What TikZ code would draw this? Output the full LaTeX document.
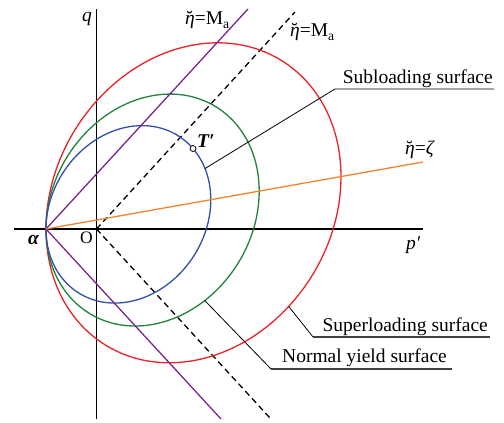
\documentclass[tikz,border=0pt]{standalone}
\usepackage{fontspec}
\setmainfont{Liberation Serif}
\definecolor{cred}{RGB}{235,35,40}
\definecolor{cgreen}{RGB}{35,130,60}
\definecolor{cblue}{RGB}{50,80,170}
\definecolor{cpurp}{RGB}{120,40,140}
\definecolor{corng}{RGB}{245,130,45}
\newcommand{\etab}{\makebox[0pt][l]{\hspace{0.06em}\raisebox{0.03em}{\upshape ˘}}{\itshape η}}
\begin{document}
\begin{tikzpicture}[x=1pt,y=1pt,
  font=\fontsize{19.5}{22}\selectfont,
  axis/.style={black,line width=1.4pt},
  curve/.style={line width=1.3pt},
  purpline/.style={cpurp,line width=1.3pt},
  orngline/.style={corng,line width=1.3pt},
  dashline/.style={black,line width=1.3pt,dash pattern=on 6pt off 4pt},
  leader/.style={black,line width=0.8pt},
  underl/.style={black!75,line width=1.2pt},
  lbl/.style={inner sep=0pt}]
\useasboundingbox (0,0) rectangle (504,423);
% key points
\coordinate (alpha) at (46,194);
\coordinate (O) at (96.5,194);
\coordinate (hL) at (14,194);
\coordinate (hR) at (423,194);
\coordinate (vB) at (96.5,4);
\coordinate (vT) at (96.5,414);
\coordinate (oE) at (423,261);
\coordinate (pU) at (248,414);
\coordinate (pD) at (221,4);
\coordinate (dU) at (295,411);
\coordinate (dD) at (270,5);
% axes
\draw[axis] (hL) -- (hR);
\draw[axis] (vB) -- (vT);
% lines
\draw[dashline] (O) -- (dU);
\draw[dashline] (O) -- (dD);
% ellipses
\draw[cred,curve,cm={147.5,26.2,0,157.8,(193.5,220.2)}] (0,0) circle[radius=1];
\draw[cgreen,curve,cm={106.6,18.95,0,114.4,(152.6,212.95)}] (0,0) circle[radius=1];
\draw[cblue,curve,cm={82.4,14.65,0,87.5,(128.4,208.65)}] (0,0) circle[radius=1];
\path[cm={82.4,14.65,0,87.5,(128.4,208.65)}] (38.4:1) coordinate (T) (21.6:1) coordinate (subP);
\path[cm={106.6,18.95,0,114.4,(152.6,212.95)}] (-60.7:1) coordinate (norP);
\path[cm={147.5,26.2,0,157.8,(193.5,220.2)}] (-49.8:1) coordinate (supP);
\draw[purpline] (alpha) -- (pU);
\draw[purpline] (alpha) -- (pD);
\draw[orngline] (alpha) -- (oE);
% leaders
\coordinate (k1) at (335,334); \coordinate (e1) at (494,334);
\coordinate (k2) at (313,86);  \coordinate (e2) at (490,86);
\coordinate (k3) at (271,54);  \coordinate (e3) at (452,54);
\draw[leader] (subP) -- (k1) -- (e1);
\draw[leader] (supP) -- (k2);
\draw[underl] (k2) -- (e2);
\draw[leader] (norP) -- (k3);
\draw[underl] (k3) -- (e3);
\node[lbl,anchor=base east] (t1) at (493,339) {Subloading surface};
\node[lbl,anchor=base east] (t2) at (488,91) {Superloading surface};
\node[lbl,anchor=base east] (t3) at (447,60) {Normal yield surface};
% point T'
\node[circle,draw,fill=white,line width=0.8pt,inner sep=0pt,minimum size=6pt] (Tc) at (T) {};
\node[lbl,anchor=base west] (Tl) at (197,275) {\bfseries\itshape T′};
% axis labels
\node[lbl,anchor=base east] (ql) at (92,401) {\itshape q};
\node[lbl,anchor=base west] (pl) at (406,173) {\itshape p′};
\node[lbl,anchor=base west] (al) at (28,178) {\bfseries\itshape α};
\node[lbl,anchor=base west,font=\fontsize{17.5}{20}\selectfont] (Ol) at (80,179) {O};
% line labels
\node[lbl,anchor=base west] (m1) at (185,398) {\etab=M\textsubscript{a}};
\node[lbl,anchor=base west] (m2) at (290,386) {\etab=M\textsubscript{a}};
\node[lbl,anchor=base west] (m3) at (405,268) {\etab=\itshape ζ};
\end{tikzpicture}
\end{document}
